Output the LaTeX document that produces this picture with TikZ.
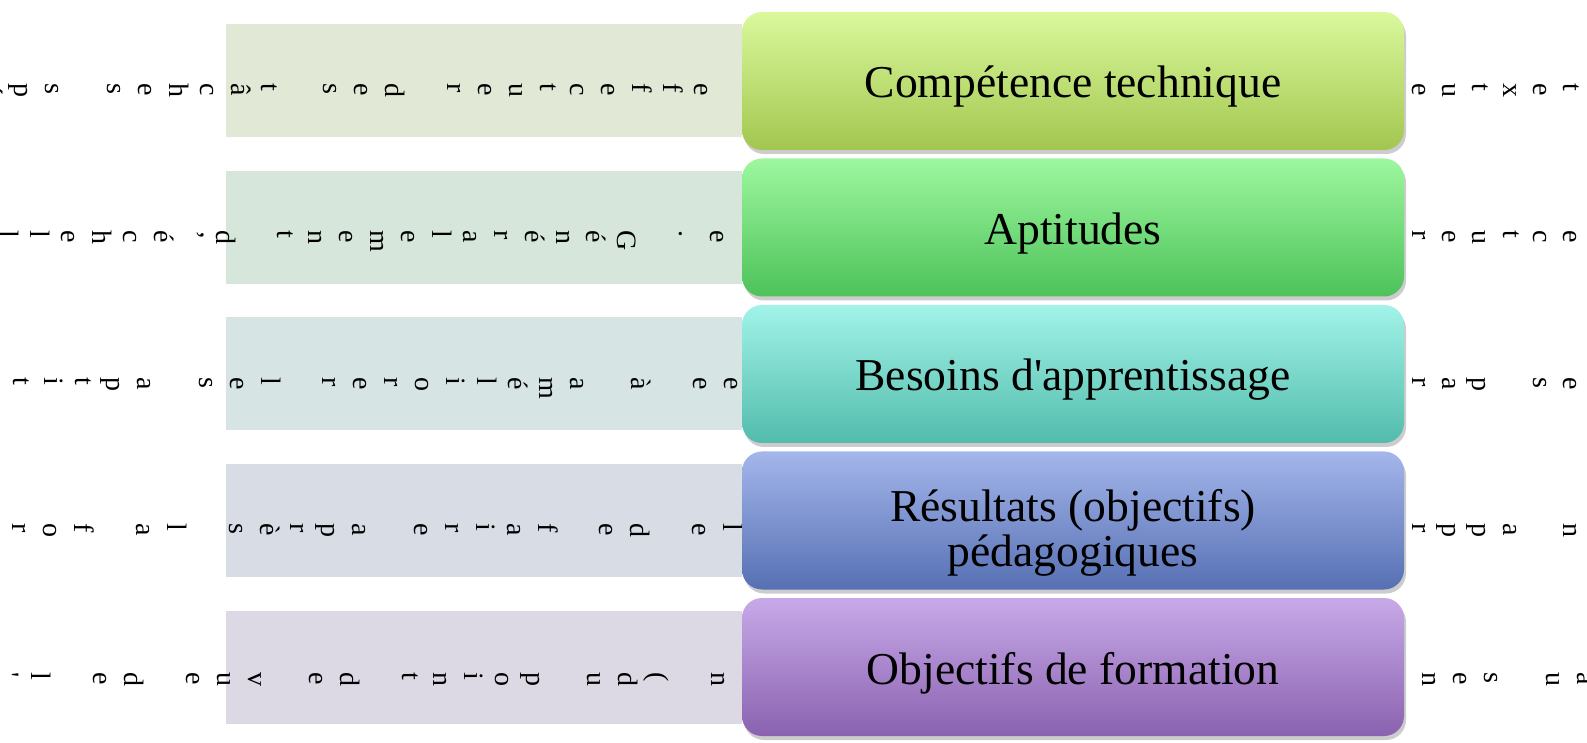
\documentclass[tikz,border=0pt]{standalone}
\usepackage{fontspec}
\setmainfont{Liberation Serif}
\usepackage{xcolor}
\usepackage{tikz}
\usetikzlibrary{positioning, shadows}

\definecolor{topA}{HTML}{D9F99C}\definecolor{botA}{HTML}{A3C64F}
\definecolor{topB}{HTML}{9DF79E}\definecolor{botB}{HTML}{4DC25A}
\definecolor{topC}{HTML}{A2F3E8}\definecolor{botC}{HTML}{52BCAC}
\definecolor{topD}{HTML}{A4B6EB}\definecolor{botD}{HTML}{5670B3}
\definecolor{topE}{HTML}{C8A9E8}\definecolor{botE}{HTML}{8A62B0}
\definecolor{paleA}{HTML}{E1E8D6}
\definecolor{paleB}{HTML}{D6E6DA}
\definecolor{paleC}{HTML}{D6E4E4}
\definecolor{paleD}{HTML}{D7DCE5}
\definecolor{paleE}{HTML}{DCD8E4}

% one row of letters turned on their side, read from right to left
\newcommand{\vrow}[5]{%
  \foreach \ch [count=\k] in {#5} {\node[vletter] (#1\k) at ({#2-6.5-(\k-1)*#4}, #3) {\ch};}}

\begin{document}
\begin{tikzpicture}[
    x=0.5pt, y=-0.5pt,
    catbox/.style={rectangle, rounded corners=10pt, inner sep=0pt,
      minimum width=331pt, minimum height=69pt,
      drop shadow={shadow xshift=1pt, shadow yshift=-2pt, fill=black!40}},
    boxlabel/.style={align=center, inner sep=0pt, font=\fontsize{22.8}{22.5}\selectfont},
    backbox/.style={rectangle, inner sep=0pt, minimum width=258pt, minimum height=56.5pt},
    vletter/.style={rotate=-90, anchor=base west, inner sep=0pt, font=\fontsize{14}{14}\selectfont}
  ]
  \useasboundingbox (0,0) rectangle (1587,743);

  % pale boxes on the left
  \node[backbox, fill=paleA] (pa) at (484,81) {};
  \node[backbox, fill=paleB] (pb) at (484,227.5) {};
  \node[backbox, fill=paleC] (pc) at (484,374) {};
  \node[backbox, fill=paleD] (pd) at (484,520.5) {};
  \node[backbox, fill=paleE] (pe) at (484,667) {};

  % letters
  \vrow{la}{701}{83}{30.9}{e,f,f,e,c,t,u,e,r,,d,e,s,,t,â,c,h,e,s,,s,p,é}
  \vrow{lb}{717}{230}{30.9}{e,{.},,G,é,n,é,r,a,l,e,m,e,n,t,,d,{'},é,c,h,e,l,l}
  \vrow{lc}{731}{377}{30.9}{e,e,,à,,a,m,é,l,i,o,r,e,r,,l,e,s,,a,p,t,i,t}
  \vrow{ld}{730}{523}{30.9}{l,e,,d,e,,f,a,i,r,e,,a,p,r,è,s,,l,a,,f,o,r}
  \vrow{le}{718}{672}{30.9}{n,,{(},d,u,,p,o,i,n,t,,d,e,,v,u,e,,d,e,,l,{\textquotesingle}}
  \vrow{ra}{1570}{83}{30.2}{t,e,x,t,u,e}
  \vrow{rb}{1570}{230}{30.2}{e,c,t,u,e,r}
  \vrow{rc}{1570}{377}{30.2}{e,s,,p,a,r}
  \vrow{rd}{1570}{523}{30.2}{n,,a,p,p,r}
  \vrow{re}{1584}{672}{31}{a,u,,s,e,n}

  % coloured boxes
  \node[catbox, top color=topA, bottom color=botA] (ct) at (1073,81) {};
  \node[catbox, top color=topB, bottom color=botB] (ap) at (1073,227.5) {};
  \node[catbox, top color=topC, bottom color=botC] (ba) at (1073,374) {};
  \node[catbox, top color=topD, bottom color=botD] (rp) at (1073,520.5) {};
  \node[catbox, top color=topE, bottom color=botE] (of) at (1073,667) {};

  \node[boxlabel] (ct-t) at ([yshift=-3pt]ct.center) {Compétence technique};
  \node[boxlabel] (ap-t) at ([yshift=-3pt]ap.center) {Aptitudes};
  \node[boxlabel] (ba-t) at ([yshift=-3pt]ba.center) {Besoins d\textquotesingle apprentissage};
  \node[boxlabel] (rp-t) at ([yshift=-6pt]rp.center) {Résultats (objectifs)\\pédagogiques};
  \node[boxlabel] (of-t) at ([yshift=-3pt]of.center) {Objectifs de formation};
\end{tikzpicture}
\end{document}
